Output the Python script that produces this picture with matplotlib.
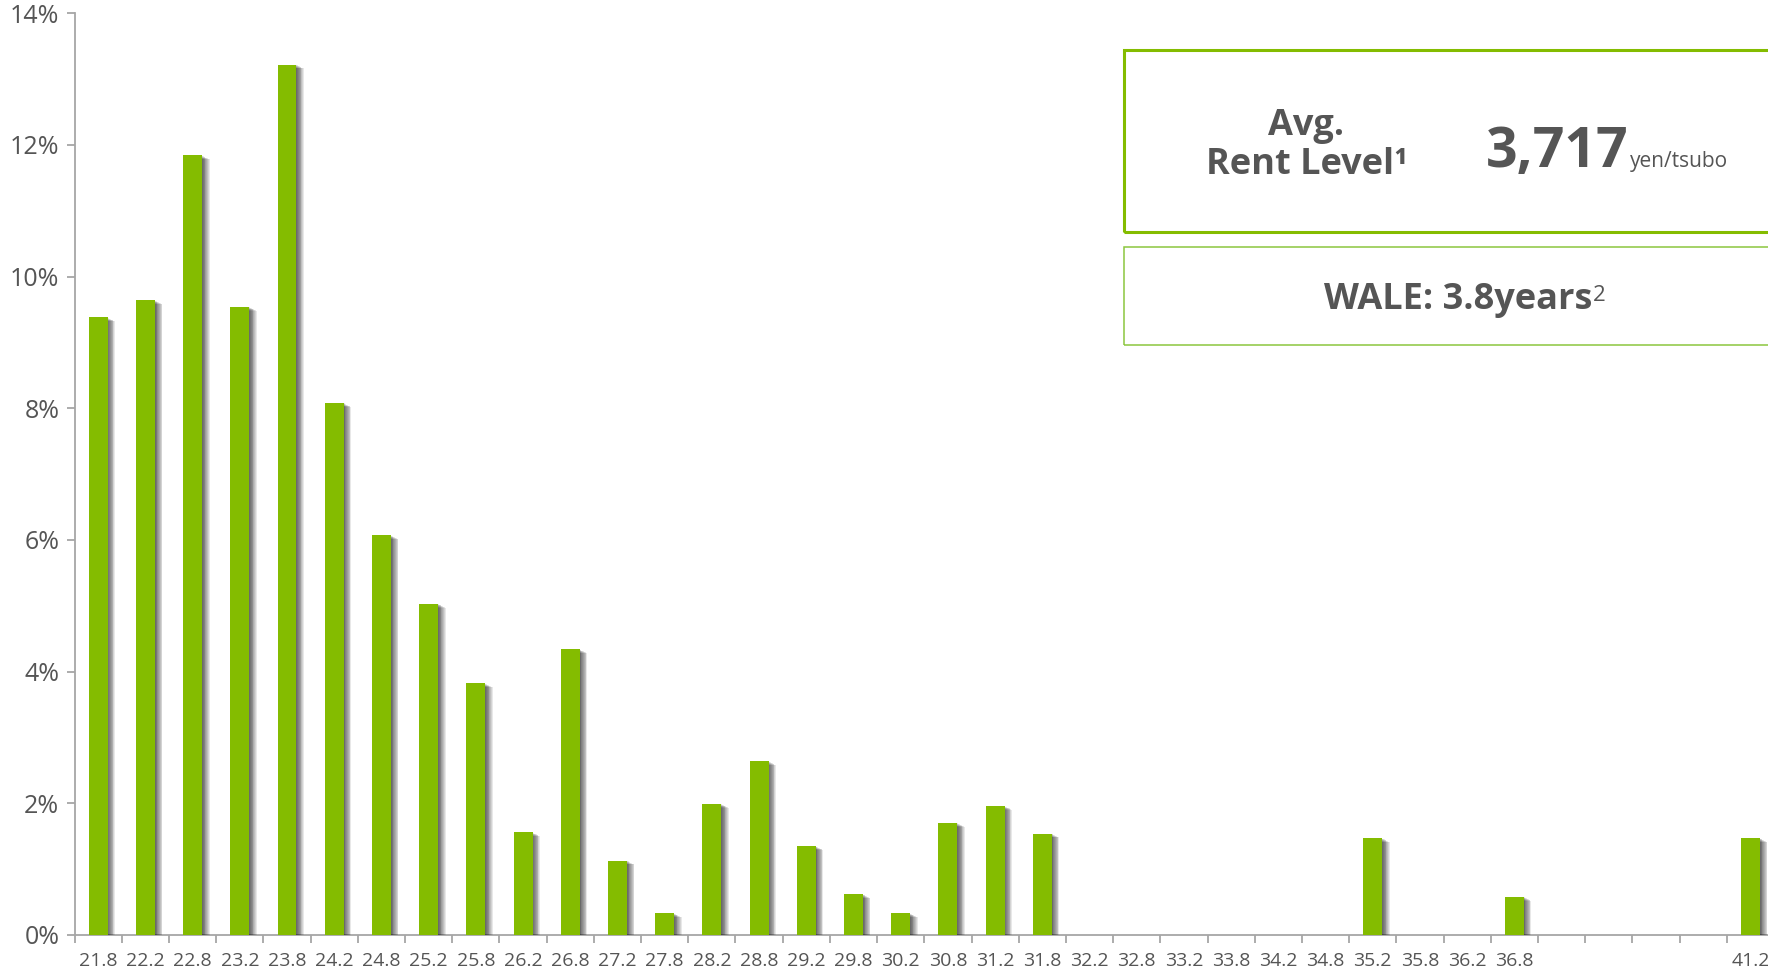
import matplotlib
matplotlib.use("Agg")
import matplotlib.pyplot as plt
import matplotlib.patheffects as pe
from matplotlib.patches import Rectangle
from matplotlib.ticker import PercentFormatter, FixedLocator
import numpy as np

plt.rcParams['font.family'] = ['Open Sans', 'DejaVu Sans']

# rent bands (thousand yen / tsubo) and share of leased area (%)
rent_bands = ['21.8', '22.2', '22.8', '23.2', '23.8', '24.2', '24.8', '25.2', '25.8',
              '26.2', '26.8', '27.2', '27.8', '28.2', '28.8', '29.2', '29.8', '30.2',
              '30.8', '31.2', '31.8', '32.2', '32.8', '33.2', '33.8', '34.2', '34.8',
              '35.2', '35.8', '36.2', '36.8', '', '', '', '', '41.2']
share = [9.38, 9.64, 11.84, 9.54, 13.22, 8.08, 6.07, 5.03, 3.82,
         1.56, 4.34, 1.13, 0.33, 1.99, 2.64, 1.35, 0.62, 0.33,
         1.70, 1.96, 1.54, 0, 0, 0, 0, 0, 0,
         1.47, 0, 0, 0.58, 0, 0, 0, 0, 1.47]

avg_rent = '3,717'
rent_unit = 'yen/tsubo'
wale = 'WALE: 3.8years'

GREEN = '#84BC00'
GREY = '#A6A6A6'
TEXT = '#555555'

fig = plt.figure(figsize=(17.68, 9.69), dpi=100)
ax = fig.add_axes([0.0422, 0.0351, 0.9612, 0.9512])

x = np.arange(len(rent_bands))

# soft drop shadow to the lower right of each bar
shadow = [pe.SimplePatchShadow(offset=(k, -0.5 * k), shadow_rgbFace='black', alpha=0.09)
          for k in np.arange(0.6, 5.5, 0.6)]
bars = ax.bar(x, share, width=0.4, color=GREEN, zorder=3)
for b in bars:
    if b.get_height() > 0:
        b.set_path_effects(shadow + [pe.Normal()])

ax.set_xlim(-0.5, len(rent_bands) - 0.5)
ax.set_ylim(0, 14)
ax.yaxis.set_major_locator(FixedLocator([0, 2, 4, 6, 8, 10, 12, 14]))
ax.yaxis.set_major_formatter(PercentFormatter(xmax=100, decimals=0))

ax.set_xticks(x)
ax.set_xticklabels(rent_bands)
ax.set_xticks(np.arange(-0.5, len(rent_bands), 1.0), minor=True)

for side in ['top', 'right']:
    ax.spines[side].set_visible(False)
for side in ['left', 'bottom']:
    ax.spines[side].set_color(GREY)
    ax.spines[side].set_linewidth(1.3)

ax.tick_params(axis='y', length=6, width=1.3, color=GREY, labelsize=18, labelcolor=TEXT, pad=5)
ax.tick_params(axis='x', which='major', length=0, labelsize=14, labelcolor=TEXT, pad=12)
ax.tick_params(axis='x', which='minor', length=6, width=1.3, color=GREY)

# summary boxes on the upper right
fig.add_artist(Rectangle((0.6357, 0.7603), 0.40, 0.1885, transform=fig.transFigure,
                         fill=False, edgecolor=GREEN, linewidth=2.2, clip_on=False))
fig.add_artist(Rectangle((0.6357, 0.644), 0.40, 0.1011, transform=fig.transFigure,
                         fill=False, edgecolor='#8CC63F', linewidth=1.1, clip_on=False))

fig.text(0.739, 0.8498, 'Avg.\nRent Level\u00b9', ha='center', va='center',
         fontsize=26, fontweight='bold', color=TEXT, linespacing=1.1)
big = fig.text(0.8405, 0.8277, avg_rent, ha='left', va='baseline',
               fontsize=40, fontweight='bold', color=TEXT)
ax.annotate(rent_unit, xy=(1, 0.8277), xycoords=(big, 'figure fraction'),
            xytext=(1, 0), textcoords='offset points', ha='left', va='baseline',
            fontsize=15, color=TEXT)

w = fig.text(0.8245, 0.6904, wale, ha='center', va='center',
             fontsize=26, fontweight='bold', color=TEXT)
ax.annotate('2', xy=(1, 1), xycoords=w, xytext=(1, -2), textcoords='offset points',
            ha='left', va='top', fontsize=16, color=TEXT)

fig.savefig('out.png', dpi=100)
